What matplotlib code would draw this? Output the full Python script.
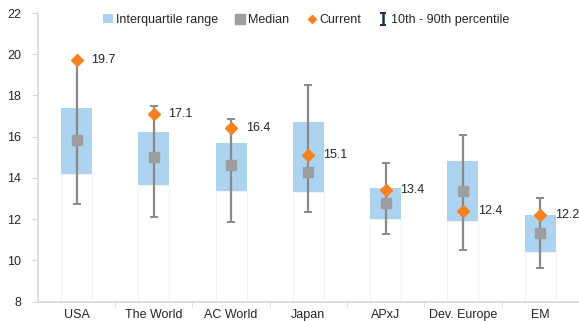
import matplotlib
matplotlib.use("Agg")
import matplotlib.pyplot as plt
from matplotlib.patches import Patch
from matplotlib.lines import Line2D

plt.rcParams['font.family'] = ['Liberation Sans', 'DejaVu Sans']

categories = ["USA", "The World", "AC World", "Japan", "APxJ", "Dev. Europe", "EM"]
q25 = [14.2, 13.65, 13.35, 13.3, 12.0, 11.9, 10.4]
q75 = [17.4, 16.25, 15.7, 16.7, 13.5, 14.8, 12.2]
median = [15.85, 15.0, 14.65, 14.3, 12.8, 13.35, 11.35]
p10 = [12.75, 12.1, 11.85, 12.35, 11.3, 10.5, 9.65]
p90 = [19.7, 17.5, 16.85, 18.5, 14.75, 16.1, 13.05]
current = [19.7, 17.1, 16.4, 15.1, 13.4, 12.4, 12.2]

blue = "#acd3f0"
gray = "#9e9e9e"
orange = "#f7821f"
navy = "#1f2f5c"
axcol = "#d9d9d9"
textcol = "#262626"

fig = plt.figure(figsize=(5.79, 3.21), dpi=100)
ax = fig.add_axes([0.0656, 0.0601, 0.934, 0.8994])

x = list(range(len(categories)))
iqr = [hi - lo for lo, hi in zip(q25, q75)]
base = [lo - 8 for lo in q25]

# faint base bars (white with very light edges) and IQR boxes
ax.bar(x, base, bottom=8, width=0.4, color="white", edgecolor="#f2f2f2", linewidth=0.8, zorder=1)
ax.bar(x, iqr, bottom=q25, width=0.4, color=blue, zorder=2)

lower = [m - lo for m, lo in zip(median, p10)]
upper = [hi - m for m, hi in zip(median, p90)]
ax.errorbar(x, median, yerr=[lower, upper], fmt="none", ecolor="#8a8a8a",
            elinewidth=1.6, capsize=3, capthick=1.4, zorder=3)
ax.plot(x, median, ls="none", marker="s", ms=7.5, color=gray, zorder=4)
ax.plot(x, current, ls="none", marker="D", ms=6, color=orange, zorder=5)

for xi, c in zip(x, current):
    ax.text(xi + 0.19, c, f"{c:.1f}", ha="left", va="center", fontsize=9, color=textcol, zorder=6)

# legend proxy for the percentile whisker (outside the visible range)
pct = ax.errorbar([-5], [15], yerr=[[1], [1]], fmt="none", ecolor=navy,
                  elinewidth=1.8, capsize=2.5, capthick=1.5)

ax.set_xlim(-0.5, len(categories) - 0.5)
ax.set_ylim(8, 22)
ax.set_yticks(range(8, 23, 2))
ax.set_yticklabels([str(v) for v in range(8, 23, 2)], fontsize=9, color=textcol)
ax.set_xticks(x)
ax.set_xticklabels(categories, fontsize=9, color=textcol)
ax.set_xticks([i + 0.5 for i in range(len(categories) - 1)], minor=True)
ax.tick_params(axis="x", which="major", length=0, pad=5)
ax.tick_params(axis="x", which="minor", length=4, color=axcol, direction="out")
ax.tick_params(axis="y", length=4, color=axcol, pad=8)

for s in ["top", "right"]:
    ax.spines[s].set_visible(False)
for s in ["left", "bottom"]:
    ax.spines[s].set_color(axcol)
    ax.spines[s].set_linewidth(1.2)

handles = [
    Patch(facecolor=blue),
    Line2D([], [], ls="none", marker="s", ms=7, color=gray),
    Line2D([], [], ls="none", marker="D", ms=4, color=orange),
    pct,
]
labels = ["Interquartile range", "Median", "Current", "10th - 90th percentile"]
ax.legend(handles, labels, loc="upper center", bbox_to_anchor=(0.496, 1.035), ncol=4,
          frameon=False, fontsize=9, handlelength=0.8, handletextpad=0.2,
          columnspacing=1.4, labelcolor=textcol)

fig.savefig("out.png", dpi=100)
